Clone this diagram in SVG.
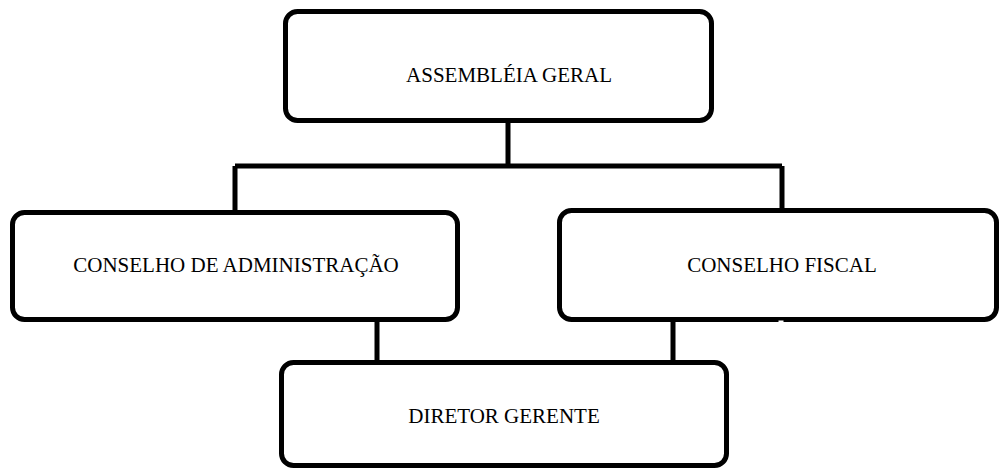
<svg xmlns="http://www.w3.org/2000/svg" width="999" height="470" viewBox="0 0 999 470">
<style>
.box{fill:#fff;stroke:#000;stroke-width:5}
.ln{stroke:#000;stroke-width:5;fill:none}
.t{font-family:"Liberation Serif","Times New Roman",serif;font-size:21px;fill:#000;text-anchor:middle}
</style>
<rect width="999" height="470" fill="#fff"/>
<g id="connectors">
<path class="ln" d="M508 121V166M235 166H782M235 166V212M782 166V210"/>
<path class="ln" d="M377 320V362M673 320V362"/>
</g>
<g id="assembleia">
<rect class="box" x="285.5" y="11.5" width="426" height="109" rx="12"/>
<text class="t" x="509" y="82">ASSEMBLÉIA GERAL</text>
</g>
<g id="conselho-adm">
<rect class="box" x="12.5" y="212.5" width="445" height="107" rx="12"/>
<text class="t" x="236" y="272">CONSELHO DE ADMINISTRAÇÃO</text>
</g>
<g id="conselho-fiscal">
<rect class="box" x="559.5" y="210.5" width="437" height="109" rx="12"/>
<rect x="778.5" y="320.5" width="5" height="3" fill="#fff"/>
<text class="t" x="782" y="272">CONSELHO FISCAL</text>
</g>
<g id="diretor">
<rect class="box" x="281.5" y="362.5" width="445" height="103" rx="12"/>
<text class="t" x="504" y="423">DIRETOR GERENTE</text>
</g>
</svg>
